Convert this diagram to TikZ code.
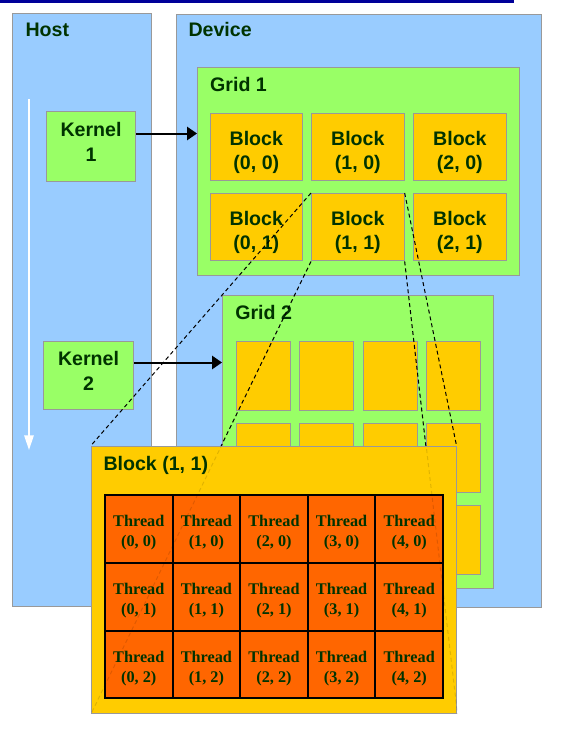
\documentclass[tikz,border=0pt]{standalone}
\usepackage{fontspec}
\setmainfont{Liberation Serif}
\setsansfont{Liberation Sans}
\usetikzlibrary{arrows.meta,calc}

\definecolor{hostblue}{HTML}{99CCFF}
\definecolor{gridgreen}{HTML}{99FF66}
\definecolor{blockyellow}{HTML}{FFCC00}
\definecolor{threadorange}{HTML}{FF6600}
\definecolor{labelgreen}{HTML}{003300}
\definecolor{edgegray}{HTML}{999999}
\definecolor{topnavy}{HTML}{000099}

\tikzset{every picture/.style={line width=0.75pt}}
\tikzset{
  panel/.style={anchor=north west, draw=edgegray, fill=hostblue, inner sep=0pt},
  gridpanel/.style={anchor=north west, draw=edgegray, fill=gridgreen, inner sep=0pt},
  kernelbox/.style={gridpanel, align=center, text=labelgreen, font=\sffamily\bfseries\fontsize{14.7}{18.5}\selectfont, execute at end node={\rule[-6.75pt]{0pt}{0pt}}},
  blockbox/.style={anchor=north west, draw=edgegray, fill=blockyellow, inner sep=0pt, minimum width=69.5pt, minimum height=50.6pt, align=center, text=labelgreen, font=\sffamily\bfseries\fontsize{14.7}{18.5}\selectfont, execute at begin node={\rule{0pt}{36.7pt}}},
  smallblock/.style={anchor=north west, draw=edgegray, fill=blockyellow, inner sep=0pt, minimum width=40.5pt, minimum height=52.1pt},
  bigblock/.style={anchor=north west, draw=edgegray, fill=blockyellow, inner sep=0pt, minimum width=274.1pt, minimum height=200.6pt},
  threadbox/.style={anchor=north west, draw=black, line width=1.5pt, fill=threadorange, inner sep=0pt, minimum width=50.7pt, minimum height=50.8pt, align=center, text=labelgreen, font=\rmfamily\bfseries\fontsize{12.2}{15}\selectfont, execute at begin node={\rule{0pt}{29.3pt}}},
  title/.style={anchor=base west, inner sep=0pt, text=labelgreen, font=\sffamily\bfseries\fontsize{14.7}{18.5}\selectfont},
  callarrow/.style={-{Triangle[length=7.5pt,width=10pt]}, line width=1.5pt},
  timearrow/.style={white, line width=1.5pt, -{Triangle[length=11pt,width=7pt]}},
  zoomline/.style={dash pattern=on 3pt off 2.25pt, line width=0.75pt}
}

\begin{document}
\begin{tikzpicture}[x=0.75pt,y=0.75pt,yscale=-1,xscale=1]
\useasboundingbox (0,0) rectangle (562,732);

%Straight Lines: top rule
\draw [topnavy, line width=2pt] (0,1.3) -- (514,1.3) ;

%Shape: Host and Device panels
\node [panel, minimum width=104.6pt, minimum height=444.75pt] (host) at (12,13) {};
\node [panel, minimum width=273.75pt, minimum height=444.75pt] (dev) at (176,13.5) {};
% Text Node
\node [title] (hostlbl) at (25,36.7) {Host};
% Text Node
\node [title] (devlbl) at (188,36.7) {Device};

%Straight Lines: time arrow
\coordinate (tstart) at (29,99);
\coordinate (tend) at (29,450);
\draw [timearrow] (tstart) -- (tend) ;

%Shape: Kernels
\node [kernelbox, minimum width=66.75pt, minimum height=52.5pt] (k1) at (46,111) {Kernel\\1};
\node [kernelbox, minimum width=67.5pt, minimum height=51pt] (k2) at (43,341) {Kernel\\2};

%Shape: Grid 1
\node [gridpanel, minimum width=241.5pt, minimum height=156pt] (grid1) at (197,67) {};
% Text Node
\node [title] (grid1lbl) at (209.7,91.7) {Grid 1};
\node [blockbox] (b00) at (209.5,113) {Block\\(0, 0)};
\node [blockbox] (b10) at (311,113) {Block\\(1, 0)};
\node [blockbox] (b20) at (413,113) {Block\\(2, 0)};
\node [blockbox] (b01) at (209.5,193) {Block\\(0, 1)};
\node [blockbox] (b11) at (311,193) {Block\\(1, 1)};
\node [blockbox] (b21) at (413,193) {Block\\(2, 1)};

%Shape: Grid 2
\node [gridpanel, minimum width=203.6pt, minimum height=219.75pt] (grid2) at (222,295) {};
% Text Node
\node [title] (grid2lbl) at (234.8,319.3) {Grid 2};
\node [smallblock] (c00) at (236,341) {};
\node [smallblock] (c10) at (299.3,341) {};
\node [smallblock] (c20) at (362.7,341) {};
\node [smallblock] (c30) at (426,341) {};
\node [smallblock] (c01) at (236,423) {};
\node [smallblock] (c11) at (299.3,423) {};
\node [smallblock] (c21) at (362.7,423) {};
\node [smallblock] (c31) at (426,423) {};
\node [smallblock] (c02) at (236,505) {};
\node [smallblock] (c12) at (299.3,505) {};
\node [smallblock] (c22) at (362.7,505) {};
\node [smallblock] (c32) at (426,505) {};

%Straight Lines: kernel launches
\coordinate (k1out) at ($(k1.east)+(0,-13)$);
\coordinate (k2out) at ($(k2.east)+(0,-13)$);
\draw [callarrow] (k1out) -- (k1out -| grid1.west) ;
\draw [callarrow] (k2out) -- (k2out -| grid2.west) ;

%Straight Lines: zoom of block (1, 1)
\coordinate (blkcorner) at (91,445.5);
\draw [zoomline] (b11.north west) -- (blkcorner) ;
\draw [zoomline] (b11.south west) -- (91,713) ;
\draw [zoomline] (b11.north east) -- (456.5,445.5) ;
\draw [zoomline] (b11.south east) -- (456.5,713) ;

%Shape: Block (1, 1)
\node [bigblock] (blk) at (blkcorner) {};
% Text Node
\node [title] (blklbl) at (103,470) {Block (1, 1)};

%Shape: Threads
\node [threadbox] (t00) at (104,494.3) {Thread\\(0, 0)};
\node [threadbox] (t10) at (171.6,494.3) {Thread\\(1, 0)};
\node [threadbox] (t20) at (239.2,494.3) {Thread\\(2, 0)};
\node [threadbox] (t30) at (306.8,494.3) {Thread\\(3, 0)};
\node [threadbox] (t40) at (374.4,494.3) {Thread\\(4, 0)};
\node [threadbox] (t01) at (104,562) {Thread\\(0, 1)};
\node [threadbox] (t11) at (171.6,562) {Thread\\(1, 1)};
\node [threadbox] (t21) at (239.2,562) {Thread\\(2, 1)};
\node [threadbox] (t31) at (306.8,562) {Thread\\(3, 1)};
\node [threadbox] (t41) at (374.4,562) {Thread\\(4, 1)};
\node [threadbox] (t02) at (104,629.7) {Thread\\(0, 2)};
\node [threadbox] (t12) at (171.6,629.7) {Thread\\(1, 2)};
\node [threadbox] (t22) at (239.2,629.7) {Thread\\(2, 2)};
\node [threadbox] (t32) at (306.8,629.7) {Thread\\(3, 2)};
\node [threadbox] (t42) at (374.4,629.7) {Thread\\(4, 2)};

%Straight Lines: faint zoom lines seen through the block
\draw [zoomline, draw opacity=0.12] (b11.south west) -- (blk.south west) ;
\draw [zoomline, draw opacity=0.12] (b11.south east) -- (blk.south east) ;

\end{tikzpicture}
\end{document}
